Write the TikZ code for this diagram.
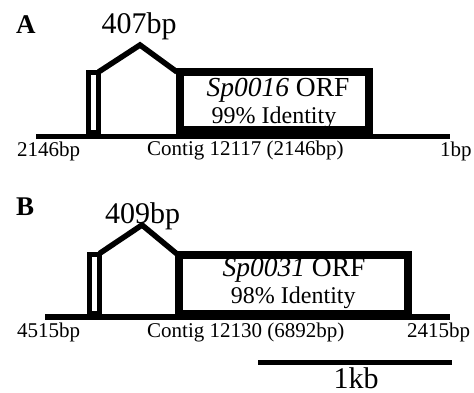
\documentclass[tikz,border=0pt]{standalone}
\usepackage{fontspec}
\setmainfont{Liberation Serif}
\begin{document}
\begin{tikzpicture}[x=1pt,y=-1pt,
  lbl/.style={font=\fontsize{21}{24}\selectfont,inner sep=0pt,anchor=base west},
  panel/.style={font=\fontsize{27}{29}\selectfont\bfseries,inner sep=0pt,anchor=base west},
  intronlbl/.style={font=\fontsize{30}{32}\selectfont,inner sep=0pt,anchor=base},
  orflbl/.style={font=\fontsize{27.5}{29}\selectfont,inner sep=0pt,anchor=base},
  idlbl/.style={font=\fontsize{24}{26}\selectfont,inner sep=0pt,anchor=base},
  contig/.style={line width=5.5pt},
  exonbox/.style={line width=5pt,fill=white},
  orfbox/.style={line width=8pt,fill=white},
  intron/.style={line width=5.5pt,miter limit=10},
  scalebar/.style={line width=5pt}]
\useasboundingbox[fill=white] (0,0) rectangle (474,393);

% ---------- Panel A ----------
\node[panel] (A) at (16,33.3) {A};
\draw[contig] (36,136.5) -- (450,136.5);
\draw[exonbox] (88.5,72.5) rectangle (98.5,133);
\draw[orfbox] (180,72.5) rectangle (369,130);
\coordinate (a1) at (98.5,72);
\coordinate (apk) at (140,45);
\coordinate (a2) at (177,72);
\draw[intron] (a1) -- (apk) -- (a2);
\node[intronlbl] (a407) at (139,33.3) {407bp};
\node[orflbl] (aorf) at (278,96.7) {\textit{Sp0016} ORF};
\node[idlbl] (aid) at (274,123.3) {99\% Identity};
\node[lbl] (aleft) at (17,157) {2146bp};
\node[lbl] (acontig) at (147,156) {Contig 12117 (2146bp)};
\node[lbl] (aright) at (440,157) {1bp};

% ---------- Panel B ----------
\node[panel] (B) at (16,215) {B};
\draw[contig] (45,317) -- (450,317);
\draw[exonbox] (89.5,254) rectangle (99.5,313.5);
\draw[orfbox] (179,255) rectangle (408,314);
\coordinate (b1) at (99.5,253.5);
\coordinate (bpk) at (142,225);
\coordinate (b2) at (177,254);
\draw[intron] (b1) -- (bpk) -- (b2);
\node[intronlbl] (b409) at (142.5,223) {409bp};
\node[orflbl] (borf) at (294,276.7) {\textit{Sp0031} ORF};
\node[idlbl] (bid) at (293.3,303.3) {98\% Identity};
\node[lbl] (bleft) at (17,337) {4515bp};
\node[lbl] (bcontig) at (147,337) {Contig 12130 (6892bp)};
\node[lbl] (bright) at (407,337) {2415bp};

% ---------- Scale bar ----------
\coordinate (s1) at (258,362.5);
\coordinate (s2) at (452,362.5);
\draw[scalebar] (s1) -- (s2);
\node[intronlbl] (kb) at (356,388) {1kb};
\end{tikzpicture}
\end{document}
